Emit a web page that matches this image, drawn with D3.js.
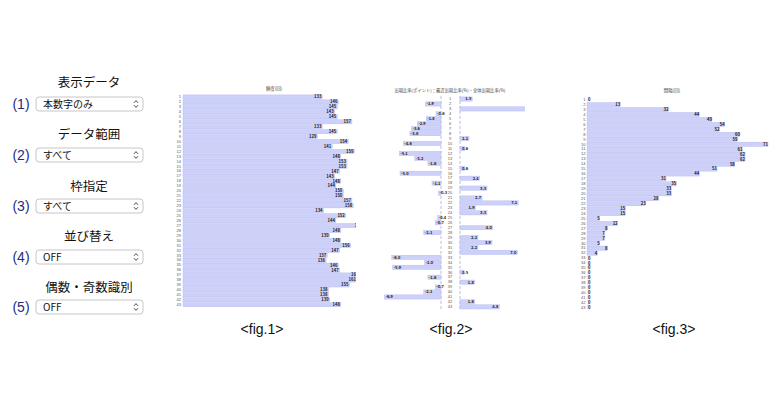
<!DOCTYPE html>
<html><head><meta charset="utf-8">
<script src="https://cdn.jsdelivr.net/npm/d3@7"></script>
<style>
html,body{margin:0;padding:0;background:#fff;}
svg{display:block;font-family:"Noto Sans CJK JP","Noto Sans",sans-serif;}
</style></head>
<body><svg id="c" width="780" height="400"></svg>
<script>
// ---- data ----
const rows = d3.range(1, 44);
const freqValues = [133,146,145,143,145,157,133,145,129,154,141,159,148,153,153,147,143,148,144,150,150,157,158,134,152,144,166,148,139,148,156,147,137,136,146,147,163,161,155,138,138,139,148];
const ratioValues = [1.5,-1.9,11.2,-0.6,-1.8,-2.9,-3.6,-3.8,1.1,-4.6,0.6,-5.1,-3.2,-1.6,0.6,-5.0,2.4,-1.1,3.3,-0.3,2.7,7.1,1.9,3.3,-0.4,-0.7,4.0,-2.1,2.2,3.9,2.2,7.0,-6.0,-2.0,-5.9,0.5,-1.6,1.8,-0.7,-2.1,-6.9,1.8,4.8];
const intervalValues = [0,13,32,44,49,54,52,60,59,71,61,62,62,58,51,44,31,35,33,33,28,23,15,15,5,12,8,7,7,5,8,4,0,0,0,0,0,0,0,0,0,0,0];
const controlTitles = ["表示データ","データ範囲","枠指定","並び替え","偶数・奇数識別"];
const controlNums = ["(1)","(2)","(3)","(4)","(5)"];
const controlValues = ["本数字のみ","すべて","すべて","OFF","OFF"];
const chartTitles = ["頻度(回)","出現比率(ポイント)：最近出現比率(%) − 全体出現比率(%)","間隔(回)"];
const figCaptions = ["<fig.1>","<fig.2>","<fig.3>"];

const svg = d3.select("#c");
const barFill = "#cdd0f9", barStroke = "#b3b8f0";
const defs = svg.append("defs");

// ---- left controls ----
const titleY = [83,135,187,237,288];
const selY = [104,155,206,257,307];
controlTitles.forEach((t,i)=>{
  svg.append("text").attr("x",89).attr("y",titleY[i]).attr("dy","0.35em")
    .attr("text-anchor","middle").attr("font-size",12.5).attr("fill","#111").text(t);
  svg.append("text").attr("x",21).attr("y",selY[i]).attr("dy","0.36em")
    .attr("text-anchor","middle").attr("font-size",14).attr("fill","#1f2d80")
    .attr("font-family","Liberation Sans, Arial, sans-serif").text(controlNums[i]);
  svg.append("rect").attr("x",36).attr("y",selY[i]-7).attr("width",107).attr("height",14)
    .attr("rx",3).attr("fill","#fff").attr("stroke","#b8b8b8").attr("stroke-width",0.8);
  svg.append("text").attr("x",43).attr("y",selY[i]).attr("dy","0.36em")
    .attr("font-size",10).attr("fill","#111").text(controlValues[i]);
  // chevrons
  const cx=136, cy=selY[i];
  svg.append("path").attr("d",`M${cx-2},${cy-1.2} L${cx},${cy-3.4} L${cx+2},${cy-1.2} M${cx-2},${cy+1.2} L${cx},${cy+3.4} L${cx+2},${cy+1.2}`)
    .attr("fill","none").attr("stroke","#333").attr("stroke-width",0.9);
});

// ---- fig 1 ----
(function(){
  const y = d3.scaleBand().domain(rows).range([94.9,306.8]).paddingInner(0.14);
  const x = d3.scaleLinear().domain([20,170]).range([183,368]);
  defs.append("clipPath").attr("id","clip1").append("rect").attr("x",170).attr("y",80).attr("width",186).attr("height",240);
  const g = svg.append("g");
  g.append("text").attr("x",274).attr("y",90).attr("text-anchor","middle").attr("font-size",4.5).attr("fill","#444").text(chartTitles[0]);
  const ax = g.append("g").attr("transform","translate(181,0)")
    .call(d3.axisLeft(y).tickSize(0).tickPadding(0));
  ax.select(".domain").remove();
  ax.selectAll("text").attr("font-size",4).attr("fill","#555");
  const cg = g.append("g").attr("clip-path","url(#clip1)");
  cg.selectAll("rect").data(freqValues).join("rect")
    .attr("x",x(20)).attr("y",(d,i)=>y(rows[i])).attr("width",d=>x(d)-x(20)).attr("height",y.bandwidth())
    .attr("fill",barFill).attr("stroke",barStroke).attr("stroke-width",0.4);
  cg.selectAll("text.v").data(freqValues).join("text").attr("class","v")
    .attr("x",d=>x(d)-1).attr("y",(d,i)=>y(rows[i])+y.bandwidth()/2).attr("dy","0.35em")
    .attr("text-anchor","end").attr("font-size",4.2).attr("font-weight","bold").attr("fill","#222").text(d=>d);
})();

// ---- fig 2 ----
(function(){
  const y = d3.scaleBand().domain(rows).range([96.9,309.0]).paddingInner(0.14);
  const xn = d3.scaleLinear().domain([-7,0]).range([441-57.4,441]);
  const xp = d3.scaleLinear().domain([0,8]).range([460,460+65.6]);
  defs.append("clipPath").attr("id","clip2").append("rect").attr("x",375).attr("y",80).attr("width",150).attr("height",240);
  const g = svg.append("g");
  g.append("text").attr("x",450).attr("y",91.5).attr("text-anchor","middle").attr("font-size",4.3).attr("fill","#444").text(chartTitles[1]);
  const ax = g.append("g").attr("transform","translate(450,0)")
    .call(d3.axisLeft(y).tickSize(0).tickPadding(0));
  ax.select(".domain").remove();
  ax.selectAll("text").attr("text-anchor","middle").attr("font-size",4).attr("fill","#555");
  [441,460].forEach(lx=>{
    g.append("line").attr("x1",lx).attr("x2",lx).attr("y1",y(1)-1).attr("y2",y(43)+y.bandwidth()+1)
      .attr("stroke","#9aa0c8").attr("stroke-width",0.7).attr("stroke-dasharray","3,2");
  });
  const cg = g.append("g").attr("clip-path","url(#clip2)");
  cg.selectAll("rect").data(ratioValues).join("rect")
    .attr("x",d=>d<0?xn(d):xp(0)).attr("y",(d,i)=>y(rows[i]))
    .attr("width",d=>d<0?xn(0)-xn(d):xp(d)-xp(0)).attr("height",y.bandwidth())
    .attr("fill",barFill).attr("stroke",barStroke).attr("stroke-width",0.4);
  cg.selectAll("text.v").data(ratioValues).join("text").attr("class","v")
    .attr("x",d=>d<0?xn(d)+1:Math.max(xp(d)-1, xp(0)+8)).attr("y",(d,i)=>y(rows[i])+y.bandwidth()/2).attr("dy","0.35em")
    .attr("text-anchor",d=>d<0?"start":"end").attr("font-size",4).attr("font-weight","bold").attr("fill","#222")
    .text(d=>d.toFixed(1));
})();

// ---- fig 3 ----
(function(){
  const y = d3.scaleBand().domain(rows).range([97.6,309.7]).paddingInner(0.14);
  const x = d3.scaleLinear().domain([0,71]).range([587,768]);
  const g = svg.append("g");
  g.append("text").attr("x",672).attr("y",91.5).attr("text-anchor","middle").attr("font-size",4.5).attr("fill","#444").text(chartTitles[2]);
  const ax = g.append("g").attr("transform","translate(585.5,0)")
    .call(d3.axisLeft(y).tickSize(0).tickPadding(0));
  ax.select(".domain").remove();
  ax.selectAll("text").attr("font-size",4).attr("fill","#555");
  g.selectAll("rect").data(intervalValues).join("rect")
    .attr("x",x(0)).attr("y",(d,i)=>y(rows[i])).attr("width",d=>Math.max(x(d)-x(0), 3)).attr("height",y.bandwidth())
    .attr("fill",d=>d>0?barFill:"#eceefc").attr("stroke",d=>d>0?barStroke:"none").attr("stroke-width",0.4);
  g.selectAll("text.v").data(intervalValues).join("text").attr("class","v")
    .attr("x",d=>Math.max(x(d), x(0)+3.5)).attr("y",(d,i)=>y(rows[i])+y.bandwidth()/2).attr("dy","0.35em")
    .attr("text-anchor","end").attr("font-size",4.2).attr("font-weight","bold").attr("fill","#222").text(d=>d);
})();

// ---- captions ----
const capX = [262,451,674];
figCaptions.forEach((c,i)=>{
  svg.append("text").attr("x",capX[i]).attr("y",329).attr("dy","0.35em").attr("text-anchor","middle")
    .attr("font-size",14).attr("fill","#111").attr("font-family","Liberation Sans, Arial, sans-serif").text(c);
});
</script></body></html>
